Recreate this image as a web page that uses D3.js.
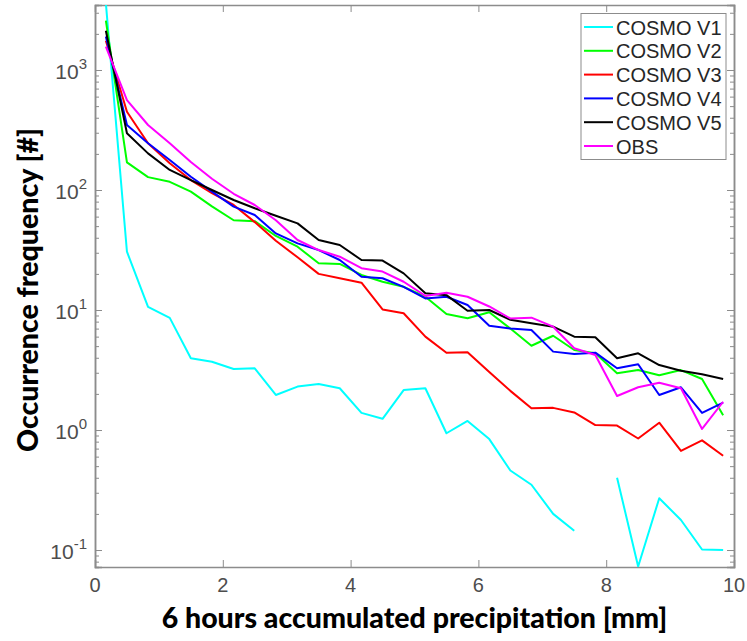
<!DOCTYPE html>
<html>
<head>
<meta charset="utf-8">
<script src="https://cdn.jsdelivr.net/npm/d3@7"></script>
<style>
  html, body { margin: 0; padding: 0; background: #fff; }
  svg { display: block; }
</style>
</head>
<body>
<svg id="chart" width="747" height="641"></svg>
<script>
// ---- data ----
const precipBins = [0.17, 0.5, 0.83, 1.17, 1.5, 1.83, 2.17, 2.5, 2.83, 3.17,
                    3.5, 3.83, 4.17, 4.5, 4.83, 5.17, 5.5, 5.83, 6.17, 6.5,
                    6.83, 7.17, 7.5, 7.83, 8.17, 8.5, 8.83, 9.17, 9.5, 9.83];
const cosmoV1 = [3600, 30.6, 10.6, 8.6, 3.96, 3.71, 3.22, 3.27, 1.96, 2.30,
                 2.42, 2.23, 1.39, 1.24, 2.15, 2.23, 0.94, 1.19, 0.84, 0.46,
                 0.35, 0.20, 0.145, null, 0.40, 0.073, 0.27, 0.178, 0.101, 0.10];
const cosmoV2 = [2576, 170, 128, 117, 97, 73, 56, 55, 41.4, 33.7,
                 24.5, 24.2, 19.6, 17.2, 15.6, 12.9, 9.26, 8.53, 9.57, 7.0,
                 5.04, 6.1, 4.64, 4.36, 2.97, 3.16, 2.86, 3.16, 2.66, 1.33];
const cosmoV3 = [1750, 449, 245, 167, 121, 94, 75, 54, 37.8, 27.5,
                 20, 18.4, 16.9, 10.1, 9.4, 6.0, 4.4, 4.45, 3.04, 2.12,
                 1.52, 1.53, 1.40, 1.10, 1.09, 0.85, 1.15, 0.67, 0.82, 0.61];
const cosmoV4 = [1900, 348, 245, 178, 129, 97, 72.6, 61.9, 43.5, 35.9,
                 31.6, 26.1, 18.9, 18.4, 15.6, 12.5, 12.9, 11.0, 7.4, 7.0,
                 6.81, 4.5, 4.3, 4.41, 3.27, 3.53, 1.96, 2.27, 1.39, 1.69];
const cosmoV5 = [2126, 297, 202, 147, 121, 100, 82.5, 70.4, 61, 52.7,
                 38.3, 34.8, 26.1, 25.8, 20.2, 13.8, 13.3, 9.87, 10, 8.3,
                 7.74, 7.26, 6.0, 5.92, 3.96, 4.36, 3.48, 3.12, 2.91, 2.66];
const obs     = [1564, 562, 348, 245, 171, 124, 93, 75, 56, 38.3,
                 31.6, 27.8, 22.3, 20.9, 17.2, 13.1, 13.9, 12.9, 10.7, 8.5,
                 8.63, 7.26, 4.8, 4.22, 1.92, 2.27, 2.48, 2.23, 1.02, 1.72];
const seriesNames = ["COSMO V1", "COSMO V2", "COSMO V3", "COSMO V4", "COSMO V5", "OBS"];
const seriesColors = ["#00ffff", "#00ff00", "#ff0000", "#0000ff", "#000000", "#ff00ff"];
const xTickValues = [0, 2, 4, 6, 8, 10];
const yMajorTicks = [0.1, 1, 10, 100, 1000];
const yExponents = ["-1", "0", "1", "2", "3"];
const xDomain = [0, 10];
const yDomain = [0.0722, 3480];
const xTitle = "6 hours accumulated precipitation [mm]";
const yTitle = "Occurrence frequency [#]";

// ---- layout ----
const svg = d3.select("#chart");
const pLeft = 95, pTop = 5, pRight = 734, pBottom = 567;
const x = d3.scaleLinear().domain(xDomain).range([pLeft, pRight]);
const y = d3.scaleLog().domain(yDomain).range([pBottom, pTop]);
const axisColor = "#8c8c8c";
const labelColor = "#4d4d4d";

svg.append("defs").append("clipPath").attr("id", "plotclip")
  .append("rect").attr("x", pLeft).attr("y", pTop).attr("width", pRight - pLeft).attr("height", pBottom - pTop);

// minor log ticks
const minorTicks = [];
for (let e = -2; e <= 3; e++) {
  for (let m = 2; m <= 9; m++) {
    const v = m * Math.pow(10, e);
    if (v >= yDomain[0] && v <= yDomain[1]) minorTicks.push(v);
  }
}

const axes = svg.append("g");
axes.append("g").attr("transform", `translate(${pLeft},0)`)
  .call(d3.axisLeft(y).tickValues(yMajorTicks).tickSize(-7).tickFormat(""));
axes.append("g").attr("transform", `translate(${pLeft},0)`)
  .call(d3.axisLeft(y).tickValues(minorTicks).tickSize(-4).tickFormat(""));
axes.append("g").attr("transform", `translate(${pRight},0)`)
  .call(d3.axisRight(y).tickValues(yMajorTicks).tickSize(-7).tickFormat(""));
axes.append("g").attr("transform", `translate(${pRight},0)`)
  .call(d3.axisRight(y).tickValues(minorTicks).tickSize(-4).tickFormat(""));
axes.append("g").attr("transform", `translate(0,${pBottom})`)
  .call(d3.axisBottom(x).tickValues(xTickValues).tickSize(-7).tickFormat(""));
axes.append("g").attr("transform", `translate(0,${pTop})`)
  .call(d3.axisTop(x).tickValues(xTickValues).tickSize(-7).tickFormat(""));

axes.selectAll(".domain").attr("stroke", axisColor).attr("stroke-width", 1.5);
axes.selectAll(".tick line").attr("stroke", axisColor).attr("stroke-width", 1);

// x tick labels
svg.append("g").selectAll("text").data(xTickValues).join("text")
  .attr("x", d => x(d)).attr("y", pBottom + 25)
  .attr("text-anchor", "middle")
  .attr("font-family", "Liberation Sans, Arial, sans-serif")
  .attr("font-size", 20).attr("fill", labelColor)
  .text(d => d);

// y tick labels 10^n
const yl = svg.append("g").selectAll("text").data(yMajorTicks).join("text")
  .attr("x", 87).attr("y", d => y(d) + 9)
  .attr("text-anchor", "end")
  .attr("font-family", "Liberation Sans, Arial, sans-serif")
  .attr("font-size", 21).attr("fill", labelColor);
yl.append("tspan").text("10");
yl.append("tspan").attr("dy", -10).attr("font-size", 15).text((d, i) => yExponents[i]);

// lines
const lineGen = d3.line()
  .defined(d => d[1] != null && d[1] > 0)
  .x(d => x(d[0])).y(d => y(d[1]));
const allSeries = [cosmoV1, cosmoV2, cosmoV3, cosmoV4, cosmoV5, obs];
const plot = svg.append("g").attr("clip-path", "url(#plotclip)");
allSeries.forEach((s, i) => {
  plot.append("path")
    .datum(precipBins.map((b, j) => [b, s[j]]))
    .attr("d", lineGen)
    .attr("fill", "none")
    .attr("stroke", seriesColors[i])
    .attr("stroke-width", 2)
    .attr("stroke-linejoin", "round");
});

// legend
const lg = svg.append("g");
lg.append("rect").attr("x", 581).attr("y", 13.5).attr("width", 145).attr("height", 146)
  .attr("fill", "#fff").attr("stroke", "#8c8c8c").attr("stroke-width", 1);
seriesNames.forEach((n, i) => {
  const ly = 27 + i * 23.8;
  lg.append("line").attr("x1", 584).attr("x2", 613).attr("y1", ly).attr("y2", ly)
    .attr("stroke", seriesColors[i]).attr("stroke-width", 2);
  lg.append("text").attr("x", 616).attr("y", ly + 7.5)
    .attr("font-family", "Liberation Sans, Arial, sans-serif")
    .attr("font-size", 20).attr("fill", "#262626").text(n);
});

// titles
svg.append("text").attr("x", (pLeft + pRight) / 2).attr("y", 628)
  .attr("text-anchor", "middle")
  .attr("font-family", "Lato, sans-serif").attr("font-weight", "900")
  .attr("font-size", 28.5).attr("fill", "#000").text(xTitle);
svg.append("text").attr("transform", "translate(38,290) rotate(-90)")
  .attr("text-anchor", "middle")
  .attr("font-family", "Lato, sans-serif").attr("font-weight", "900")
  .attr("font-size", 28.5).attr("fill", "#000").text(yTitle);
</script>
</body>
</html>
